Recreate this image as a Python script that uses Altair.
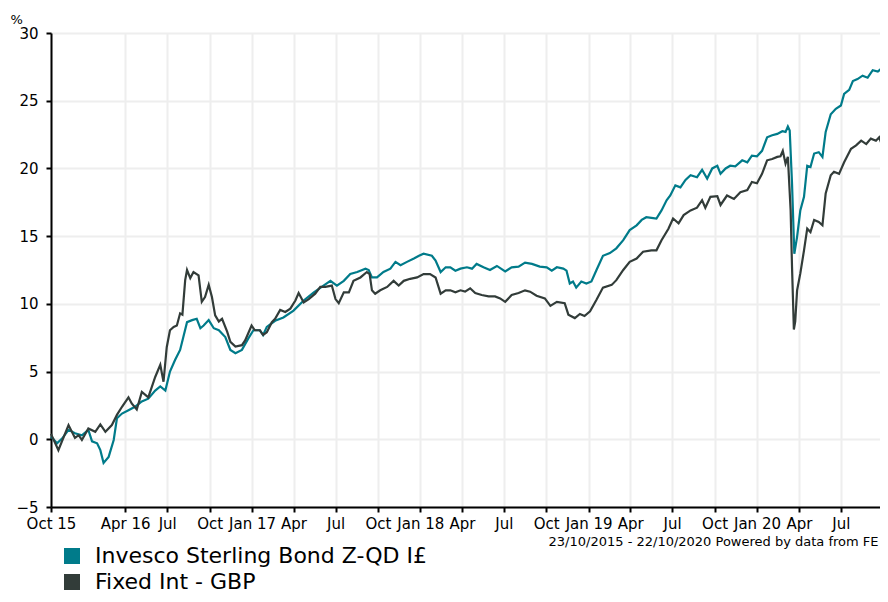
import altair as alt
import pandas as pd

teal_name = "Invesco Sterling Bond Z-QD I£"
dark_name = "Fixed Int - GBP"
teal_color = "#007b8a"
dark_color = "#323c39"

start_date = "2015-10-23"
end_date = "2020-10-22"
footer_text = "23/10/2015 - 22/10/2020 Powered by data from FE"

teal_dates = [
    "2015-10-23", "2015-11-05", "2015-11-16", "2015-11-30", "2015-12-14", "2015-12-29",
    "2016-01-12", "2016-01-20", "2016-01-31", "2016-02-07", "2016-02-14", "2016-02-25",
    "2016-03-07", "2016-03-14", "2016-03-25", "2016-04-08", "2016-04-22", "2016-05-07",
    "2016-05-21", "2016-06-05", "2016-06-16", "2016-06-27", "2016-07-07", "2016-07-18",
    "2016-07-29", "2016-08-05", "2016-08-13", "2016-08-24", "2016-09-03", "2016-09-11",
    "2016-09-18", "2016-09-29", "2016-10-10", "2016-10-21", "2016-11-04", "2016-11-15",
    "2016-11-26", "2016-12-10", "2016-12-24", "2017-01-04", "2017-01-18", "2017-01-25",
    "2017-02-02", "2017-02-20", "2017-03-10", "2017-04-01", "2017-04-23", "2017-05-15",
    "2017-06-05", "2017-06-20", "2017-07-04", "2017-07-19", "2017-08-02", "2017-08-17",
    "2017-09-04", "2017-09-11", "2017-09-18", "2017-09-29", "2017-10-13", "2017-10-28",
    "2017-11-08", "2017-11-19", "2017-12-03", "2017-12-18", "2017-12-29", "2018-01-08",
    "2018-01-26", "2018-02-03", "2018-02-14", "2018-02-25", "2018-03-07", "2018-03-18",
    "2018-03-29", "2018-04-12", "2018-04-23", "2018-05-03", "2018-05-18", "2018-06-01",
    "2018-06-16", "2018-07-04", "2018-07-18", "2018-08-02", "2018-08-16", "2018-08-31",
    "2018-09-17", "2018-10-02", "2018-10-13", "2018-10-24", "2018-11-07", "2018-11-14",
    "2018-11-21", "2018-11-28", "2018-12-05", "2018-12-16", "2018-12-27", "2019-01-07",
    "2019-01-18", "2019-02-01", "2019-02-16", "2019-03-02", "2019-03-17", "2019-03-31",
    "2019-04-15", "2019-04-26", "2019-05-06", "2019-05-17", "2019-05-28", "2019-06-08",
    "2019-06-19", "2019-06-27", "2019-07-08", "2019-07-19", "2019-07-30", "2019-08-10",
    "2019-08-24", "2019-09-04", "2019-09-15", "2019-09-26", "2019-10-07", "2019-10-14",
    "2019-10-25", "2019-11-04", "2019-11-15", "2019-11-30", "2019-12-11", "2019-12-21",
    "2020-01-01", "2020-01-12", "2020-01-23", "2020-02-03", "2020-02-14", "2020-02-25",
    "2020-03-03", "2020-03-08", "2020-03-12", "2020-03-17", "2020-03-22", "2020-03-28",
    "2020-04-04", "2020-04-12", "2020-04-19", "2020-04-26", "2020-05-04", "2020-05-14",
    "2020-05-22", "2020-05-29", "2020-06-09", "2020-06-20", "2020-07-01", "2020-07-08",
    "2020-07-19", "2020-07-27", "2020-08-06", "2020-08-17", "2020-08-28", "2020-09-08",
    "2020-09-19", "2020-09-26", "2020-10-03", "2020-10-12", "2020-10-22",
]
teal_values = [
    0.2, -0.3, 0.05, 0.7, 0.45, 0.3,
    0.7, -0.15, -0.3, -0.8, -1.75, -1.3,
    -0.05, 1.55, 1.9, 2.15, 2.4, 2.8,
    3.0, 3.6, 3.9, 3.6, 5.0, 5.85,
    6.6, 7.55, 8.65, 8.8, 8.9, 8.2,
    8.4, 8.8, 8.2, 8.05, 7.55, 6.6,
    6.35, 6.6, 7.45, 8.05, 8.05, 7.7,
    8.3, 8.75, 9.0, 9.5, 10.25, 10.85,
    11.35, 11.7, 11.35, 11.7, 12.2, 12.35,
    12.6, 12.5, 11.95, 11.95, 12.35, 12.6,
    13.1, 12.85, 13.1, 13.35, 13.55, 13.7,
    13.55, 13.2, 12.35, 12.7, 12.7, 12.45,
    12.6, 12.7, 12.6, 12.95, 12.7, 12.5,
    12.8, 12.4, 12.7, 12.75, 13.05, 12.95,
    12.75, 12.7, 12.45, 12.7, 12.6, 12.45,
    11.5, 11.65, 11.2, 11.65, 11.5, 11.65,
    12.5, 13.55, 13.75, 14.1, 14.7, 15.45,
    15.8, 16.2, 16.4, 16.35, 16.3, 16.9,
    17.65, 18.0, 18.75, 18.6, 19.15, 19.5,
    19.35, 19.9, 19.25, 20.0, 20.2, 19.6,
    20.0, 20.2, 20.15, 20.6, 20.45, 20.95,
    20.9, 21.3, 22.3, 22.45, 22.55, 22.75,
    22.7, 23.1, 22.8, 18.9, 13.7, 14.95,
    16.9, 17.9, 20.2, 20.1, 21.1, 21.2,
    20.85, 22.7, 24.0, 24.4, 24.65, 25.5,
    25.8, 26.45, 26.6, 26.85, 26.7, 27.25,
    27.15, 27.35, 26.7, 27.15, 27.3,
]

dark_dates = [
    "2015-10-23", "2015-11-08", "2015-11-30", "2015-12-14", "2015-12-22", "2015-12-29",
    "2016-01-12", "2016-01-27", "2016-02-07", "2016-02-18", "2016-03-03", "2016-03-14",
    "2016-03-25", "2016-04-08", "2016-04-15", "2016-04-26", "2016-05-07", "2016-05-21",
    "2016-06-05", "2016-06-16", "2016-06-23", "2016-06-30", "2016-07-07", "2016-07-15",
    "2016-07-22", "2016-07-29", "2016-08-03", "2016-08-09", "2016-08-13", "2016-08-20",
    "2016-08-27", "2016-09-07", "2016-09-14", "2016-09-21", "2016-09-29", "2016-10-06",
    "2016-10-13", "2016-10-21", "2016-10-28", "2016-11-08", "2016-11-15", "2016-11-26",
    "2016-12-10", "2016-12-17", "2016-12-31", "2017-01-07", "2017-01-18", "2017-01-25",
    "2017-02-02", "2017-02-13", "2017-02-20", "2017-03-03", "2017-03-14", "2017-03-25",
    "2017-04-05", "2017-04-12", "2017-04-23", "2017-05-04", "2017-05-18", "2017-05-29",
    "2017-06-09", "2017-06-23", "2017-07-01", "2017-07-08", "2017-07-19", "2017-07-30",
    "2017-08-09", "2017-08-24", "2017-09-07", "2017-09-13", "2017-09-18", "2017-09-25",
    "2017-10-06", "2017-10-21", "2017-11-04", "2017-11-15", "2017-11-26", "2017-12-10",
    "2017-12-25", "2018-01-08", "2018-01-22", "2018-02-03", "2018-02-14", "2018-02-25",
    "2018-03-07", "2018-03-18", "2018-03-29", "2018-04-08", "2018-04-19", "2018-04-30",
    "2018-05-14", "2018-05-29", "2018-06-12", "2018-06-23", "2018-07-04", "2018-07-18",
    "2018-08-02", "2018-08-16", "2018-08-27", "2018-09-10", "2018-09-28", "2018-10-10",
    "2018-10-24", "2018-11-10", "2018-11-18", "2018-12-02", "2018-12-13", "2018-12-23",
    "2019-01-04", "2019-01-18", "2019-02-01", "2019-02-20", "2019-03-02", "2019-03-17",
    "2019-03-31", "2019-04-15", "2019-04-29", "2019-05-17", "2019-05-28", "2019-06-08",
    "2019-06-23", "2019-07-03", "2019-07-15", "2019-07-26", "2019-08-10", "2019-08-24",
    "2019-09-04", "2019-09-11", "2019-09-22", "2019-10-07", "2019-10-14", "2019-10-28",
    "2019-11-12", "2019-11-26", "2019-12-11", "2019-12-21", "2020-01-01", "2020-01-12",
    "2020-01-23", "2020-02-03", "2020-02-14", "2020-02-21", "2020-02-26", "2020-03-03",
    "2020-03-08", "2020-03-14", "2020-03-17", "2020-03-21", "2020-03-24", "2020-03-28",
    "2020-04-04", "2020-04-12", "2020-04-19", "2020-04-26", "2020-05-04", "2020-05-14",
    "2020-05-22", "2020-05-29", "2020-06-09", "2020-06-16", "2020-06-27", "2020-07-08",
    "2020-07-23", "2020-08-03", "2020-08-14", "2020-08-25", "2020-09-04", "2020-09-15",
    "2020-09-22", "2020-09-30", "2020-10-12", "2020-10-22",
]
dark_values = [
    0.4, -0.8, 1.05, 0.1, 0.3, -0.05,
    0.8, 0.55, 1.1, 0.55, 1.05, 1.8,
    2.4, 3.1, 2.65, 2.2, 3.5, 3.1,
    4.6, 5.5, 4.25, 6.8, 8.05, 8.3,
    8.4, 9.3, 9.2, 11.75, 12.5, 11.9,
    12.35, 12.1, 10.15, 10.5, 11.4, 10.5,
    9.15, 8.7, 8.9, 7.95, 7.2, 6.85,
    6.95, 7.3, 8.4, 8.05, 8.05, 7.7,
    7.9, 8.65, 8.9, 9.55, 9.4, 9.65,
    10.25, 10.8, 10.1, 10.35, 10.75, 11.25,
    11.25, 11.35, 10.35, 10.05, 10.85, 10.85,
    11.7, 11.95, 12.35, 12.2, 11.0, 10.75,
    11.0, 11.25, 11.7, 11.35, 11.7, 11.85,
    11.95, 12.2, 12.2, 11.95, 10.75, 11.0,
    11.0, 10.85, 11.0, 10.9, 11.15, 10.8,
    10.65, 10.55, 10.55, 10.4, 10.15, 10.65,
    10.8, 11.0, 10.9, 10.6, 10.4, 9.85,
    10.15, 10.05, 9.2, 8.95, 9.25, 9.1,
    9.45, 10.3, 11.2, 11.4, 11.75, 12.5,
    13.1, 13.35, 13.85, 13.95, 13.95, 14.7,
    15.55, 16.3, 15.95, 16.55, 16.9, 17.1,
    17.65, 17.1, 17.9, 17.95, 17.3, 18.0,
    17.75, 18.25, 18.4, 19.0, 18.9, 19.6,
    20.6, 20.7, 20.85, 20.9, 21.3, 20.35,
    20.85, 16.9, 12.75, 8.1, 8.7, 11.0,
    12.25, 13.95, 15.55, 15.3, 16.2, 16.05,
    15.8, 18.15, 19.5, 19.75, 19.6, 20.45,
    21.45, 21.7, 22.05, 21.8, 22.2, 22.05,
    22.3, 21.55, 21.95, 22.0,
]

tick_dates = [
    "2015-10-23", "2016-04-01", "2016-07-01", "2016-10-01", "2017-01-01", "2017-04-01",
    "2017-07-01", "2017-10-01", "2018-01-01", "2018-04-01", "2018-07-01", "2018-10-01",
    "2019-01-01", "2019-04-01", "2019-07-01", "2019-10-01", "2020-01-01", "2020-04-01",
    "2020-07-01",
]
tick_labels = [
    "Oct 15", "Apr 16", "Jul", "Oct", "Jan 17", "Apr",
    "Jul", "Oct", "Jan 18", "Apr", "Jul", "Oct",
    "Jan 19", "Apr", "Jul", "Oct", "Jan 20", "Apr",
    "Jul",
]
y_ticks = [-5, 0, 5, 10, 15, 20, 25, 30]


def ms(d):
    return int(pd.Timestamp(d, tz="UTC").value // 10**6)


rows = [{"date": d, "value": v, "series": teal_name} for d, v in zip(teal_dates, teal_values)]
rows += [{"date": d, "value": v, "series": dark_name} for d, v in zip(dark_dates, dark_values)]
df = pd.DataFrame(rows)

tick_ms = [ms(d) for d in tick_dates]
label_expr = "".join(
    f"time(datum.value) == {m} ? '{l}' : " for m, l in zip(tick_ms, tick_labels)
) + "''"

FONT = "DejaVu Sans"
PLOT_W = 829      # visible part of the plot (svg must fit the window)
RANGE_W = 842     # full x range; the last days run past the window edge
PLOT_H = 474

color = alt.Color(
    "series:N",
    scale=alt.Scale(domain=[teal_name, dark_name], range=[teal_color, dark_color]),
    legend=alt.Legend(
        title=None,
        orient="none",
        legendX=10,
        legendY=512,
        direction="vertical",
        symbolType="square",
        symbolSize=64,
        symbolStrokeWidth=8,
        labelFontSize=22,
        labelColor="#000000",
        labelFont=FONT,
        labelOffset=12,
        clipHeight=22,
        rowPadding=4,
        padding=0,
        labelLimit=0,
    ),
)

x = alt.X(
    "date:T",
    scale=alt.Scale(domain=[ms(start_date), ms(end_date)], range=[0, RANGE_W]),
    axis=alt.Axis(
        values=tick_ms,
        labelExpr=label_expr,
        labelFlush=False,
        labelOverlap=False,
        labelBound=False,
        labelPadding=4,
        title=footer_text,
        titleX=PLOT_W - 2,
        titleY=38,
        titleAlign="right",
        titleBaseline="alphabetic",
        titleFontSize=13,
        titleFontWeight="normal",
        titleColor="#000000",
        titleFont=FONT,
    ),
)

y = alt.Y(
    "value:Q",
    scale=alt.Scale(domain=[-5, 30], nice=False, zero=False),
    axis=alt.Axis(
        values=y_ticks,
        labelPadding=8,
        title="%",
        titleAngle=0,
        titleX=-41,
        titleY=-10,
        titleAlign="left",
        titleBaseline="alphabetic",
        titleFontSize=13,
        titleFontWeight="normal",
        titleColor="#000000",
        titleFont=FONT,
    ),
)

base = alt.Chart(df).encode(x=x, y=y, color=color)
teal_layer = base.transform_filter(alt.datum.series == teal_name).mark_line(strokeWidth=2.2)
dark_layer = base.transform_filter(alt.datum.series == dark_name).mark_line(strokeWidth=2.2)

chart = (
    alt.layer(teal_layer, dark_layer)
    .properties(
        width=PLOT_W,
        height=PLOT_H,
        autosize=alt.AutoSizeParams(type="none"),
        padding={"left": 43, "top": 25, "right": 0, "bottom": 87},
    )
    .configure(font=FONT)
    .configure_view(stroke=None)
    .configure_axis(
        domainColor="#000000",
        domainWidth=2,
        tickColor="#000000",
        tickWidth=2,
        tickSize=5,
        labelFontSize=15,
        labelColor="#000000",
        labelFont=FONT,
        gridColor="#eeeeee",
        gridWidth=2,
    )
)

chart.save("out.html", embed_options={"renderer": "svg", "actions": False})
